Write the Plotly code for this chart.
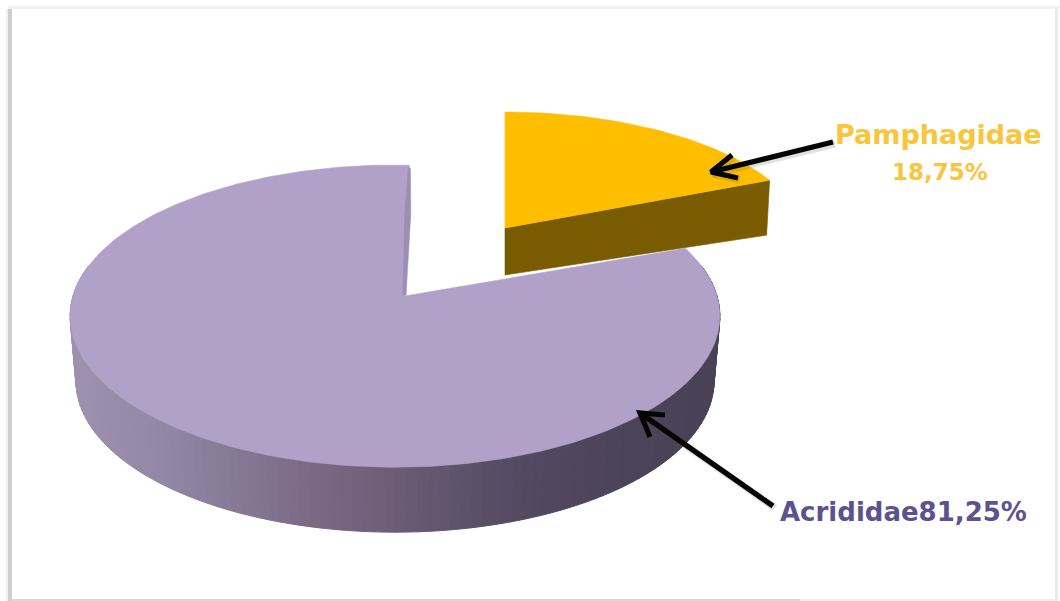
import numpy as np
import plotly.graph_objects as go

categories = ["Pamphagidae", "Acrididae"]
shares = [18.75, 81.25]
label_texts = ["Pamphagidae", "18,75%", "Acrididae81,25%"]

W, H = 1060, 601
PURPLE_TOP = "#B1A0C7"
PURPLE_TEXT = "#5E5190"
GOLD_TOP = "#FFBF00"
GOLD_WALL = "#7A5C00"
GOLD_TEXT = "#F8C53C"


def project(theta_deg, cx, cy, A, B, k=0.133, scale=1.0, dy=0.0):
    t = np.radians(theta_deg)
    u, v = np.sin(t), np.cos(t)
    d = 1 + k * v
    return cx + scale * A * u / d, cy - B * v / d + dy


def wall_colour(x):
    xs = [70, 170, 300, 400, 520, 620, 725]
    rs = [158, 146, 124, 108, 84, 76, 73]
    gs = [146, 134, 108, 92, 74, 68, 66]
    bs = [176, 164, 136, 118, 98, 90, 86]
    return "rgb(%d,%d,%d)" % (np.interp(x, xs, rs), np.interp(x, xs, gs), np.interp(x, xs, bs))


fig = go.Figure()


def poly(x, y, colour, width=0.6):
    fig.add_trace(go.Scatter(x=list(x), y=list(y), mode="lines", fill="toself",
                             fillcolor=colour, line=dict(color=colour, width=width),
                             hoverinfo="skip", showlegend=False))


sweep_p = shares[0] / 100 * 360
sweep_a = shares[1] / 100 * 360

# Pamphagidae slice
pcx, pcy, pA, pB = 505, 228, 301, 131.4
ptheta = np.linspace(0, sweep_p, 50)
ppx, ppy = project(ptheta, pcx, pcy, pA, pB)
poly([pcx, ppx[-1], ppx[-1] - 3, pcx, pcx], [pcy, ppy[-1], ppy[-1] + 55, pcy + 47, pcy], GOLD_WALL)
poly(np.r_[pcx, ppx, pcx], np.r_[pcy, ppy, pcy], GOLD_TOP)

# Acrididae slice
acx, acy, aA, aB = 395, 296, 322, 148.4
rot = 2.9
start_a = sweep_p + rot
end_a = start_a + sweep_a

# side wall in narrow shaded bands
edges = np.linspace(78, 282, 121)
for t0, t1 in zip(edges[:-1], edges[1:]):
    tt = np.linspace(t0, t1, 3)
    x0, y0 = project(tt, acx, acy, aA, aB)
    x1, y1 = project(tt, acx, acy, aA, aB, scale=0.982, dy=65)
    poly(np.r_[x0, x1[::-1], x0[0]], np.r_[y0, y1[::-1], y0[0]], wall_colour(x0.mean()), width=1)

atheta = np.linspace(start_a, end_a, 240)
ax_, ay_ = project(atheta, acx, acy, aA, aB)
apex_x, apex_y = 405, 296
poly(np.r_[apex_x, ax_, apex_x], np.r_[apex_y, ay_, apex_y], PURPLE_TOP)

# thin inner face along the notch
rx, ry = ax_[-1], ay_[-1]
mx, my = rx + (apex_x - rx) * 0.37, ry + (apex_y - ry) * 0.37
poly([rx + 1, mx + 3, apex_x + 1, apex_x - 2, mx - 3, rx - 1, rx + 1],
     [ry + 3, my, apex_y - 1, apex_y - 1, my, ry + 3, ry + 3], "#9D8EB4")

# arrows
arrows = [
    ([833, 711], [142, 172], [732, 155], [738, 178]),
    ([773, 640], [506, 413], [665, 415], [650, 437]),
]
for xs, ys, b1, b2 in arrows:
    for off, col, wd in ((2, "rgba(90,90,90,0.18)", 7), (0, "#050505", 5.2)):
        fig.add_trace(go.Scatter(
            x=[xs[0] + off, xs[1] + off, None, b1[0] + off, xs[1] + off, b2[0] + off],
            y=[ys[0] + off, ys[1] + off, None, b1[1] + off, ys[1] + off, b2[1] + off],
            mode="lines", line=dict(color=col, width=wd), hoverinfo="skip", showlegend=False))

frame = [
    dict(type="rect", xref="x", yref="y", x0=8, x1=12, y0=9, y1=601,
         fillcolor="#CFCFCF", line_width=0, layer="below"),
    dict(type="rect", xref="x", yref="y", x0=6, x1=8, y0=9, y1=601,
         fillcolor="#EFEFEF", line_width=0, layer="below"),
    dict(type="rect", xref="x", yref="y", x0=8, x1=1060, y0=6, y1=9,
         fillcolor="#F1F1F1", line_width=0, layer="below"),
    dict(type="rect", xref="x", yref="y", x0=1055, x1=1058, y0=9, y1=601,
         fillcolor="#EBEBEB", line_width=0, layer="below"),
    dict(type="rect", xref="x", yref="y", x0=12, x1=800, y0=599, y1=601,
         fillcolor="#D8D8D8", line_width=0, layer="below"),
    dict(type="rect", xref="x", yref="y", x0=800, x1=1055, y0=599, y1=601,
         fillcolor="#EDEDED", line_width=0, layer="below"),
]

font = "DejaVu Sans"
ann = [
    dict(x=938.5, y=134, text="<b>%s</b>" % label_texts[0], font=dict(family=font, size=27, color=GOLD_TEXT)),
    dict(x=940, y=172, text="<b>%s</b>" % label_texts[1], font=dict(family=font, size=23, color=GOLD_TEXT)),
    dict(x=903.5, y=512, text="<b>%s</b>" % label_texts[2], font=dict(family=font, size=26, color=PURPLE_TEXT)),
]
for a in ann:
    a.update(xref="x", yref="y", showarrow=False, xanchor="center", yanchor="middle")

fig.update_layout(
    width=W, height=H, margin=dict(l=0, r=0, t=0, b=0),
    paper_bgcolor="white", plot_bgcolor="white", showlegend=False,
    xaxis=dict(range=[0, W], visible=False, fixedrange=True),
    yaxis=dict(range=[H, 0], visible=False, fixedrange=True),
    shapes=frame, annotations=ann,
)

fig.write_html("out.html", config={"displayModeBar": False},
               post_script="document.body.style.margin='0';document.documentElement.style.overflow='hidden';")
